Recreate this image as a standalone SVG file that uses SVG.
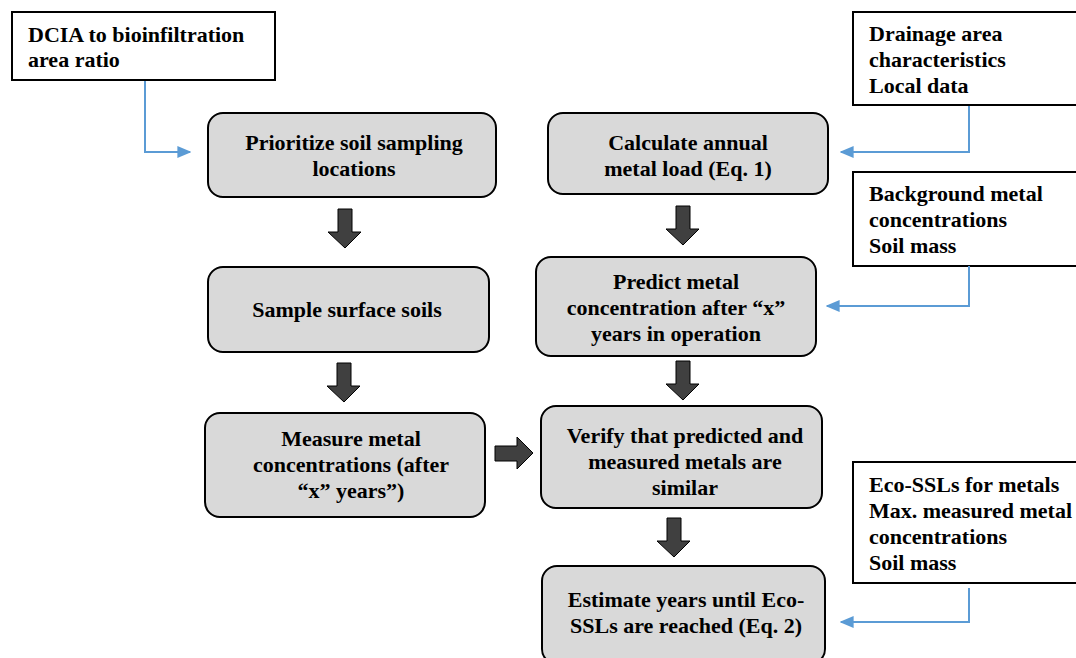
<svg xmlns="http://www.w3.org/2000/svg" width="1076" height="658" viewBox="0 0 1076 658">
<defs>
<style>
text{font-family:'Liberation Serif','Times New Roman','DejaVu Serif',serif;font-weight:700;font-size:22px;fill:#000}
.c{text-anchor:middle}
.proc{fill:#d9d9d9;stroke:#000;stroke-width:2}
.inp{fill:#fff;stroke:#000;stroke-width:2}
.blk{fill:#404040;stroke:#000;stroke-width:1}
.blue{fill:none;stroke:#5b9bd5;stroke-width:2}
</style>
<marker id="ah" viewBox="0 0 10 10" refX="9" refY="5" markerWidth="14" markerHeight="12" markerUnits="userSpaceOnUse" orient="auto" preserveAspectRatio="none">
<path d="M0,0L10,5L0,10z" fill="#5b9bd5"/>
</marker>
</defs>
<rect width="1076" height="658" fill="#fff"/>
<g id="dcia"><rect class="inp" x="12" y="12" width="263" height="68"/><text x="28" y="42">DCIA to bioinfiltration</text><text x="28" y="67">area ratio</text></g>
<g id="drainage"><rect class="inp" x="853" y="12" width="230" height="93"/><text x="869" y="41">Drainage area</text><text x="869" y="67">characteristics</text><text x="869" y="93">Local data</text></g>
<g id="background"><rect class="inp" x="853" y="172" width="230" height="94"/><text x="869" y="201">Background metal</text><text x="869" y="227">concentrations</text><text x="869" y="253">Soil mass</text></g>
<g id="ecossl"><rect class="inp" x="853" y="462" width="230" height="121"/><text x="869" y="492">Eco-SSLs for metals</text><text x="869" y="518">Max. measured metal</text><text x="869" y="544">concentrations</text><text x="869" y="570">Soil mass</text></g>
<g id="prioritize"><rect class="proc" x="208" y="113" width="288" height="84" rx="15"/><text class="c" x="354" y="150">Prioritize soil sampling</text><text class="c" x="354" y="176">locations</text></g>
<g id="calculate"><rect class="proc" x="548" y="113" width="280" height="81" rx="15"/><text class="c" x="688" y="150">Calculate annual</text><text class="c" x="688" y="176">metal load (Eq. 1)</text></g>
<g id="sample"><rect class="proc" x="208" y="267" width="281" height="85" rx="15"/><text class="c" x="347" y="317">Sample surface soils</text></g>
<g id="predict"><rect class="proc" x="536" y="257" width="280" height="99" rx="15"/><text class="c" x="676" y="289">Predict metal</text><text class="c" x="676" y="315">concentration after “x”</text><text class="c" x="676" y="341">years in operation</text></g>
<g id="measure"><rect class="proc" x="205" y="413" width="280" height="104" rx="15"/><text class="c" x="351" y="446">Measure metal</text><text class="c" x="351" y="472">concentrations (after</text><text class="c" x="351" y="498">“x” years”)</text></g>
<g id="verify"><rect class="proc" x="541" y="406" width="281" height="102" rx="15"/><text class="c" x="685" y="443">Verify that predicted and</text><text class="c" x="685" y="469">measured metals are</text><text class="c" x="685" y="495">similar</text></g>
<g id="estimate"><rect class="proc" x="542" y="566" width="283" height="98" rx="15"/><text class="c" x="686" y="607">Estimate years until Eco-</text><text class="c" x="686" y="633">SSLs are reached (Eq. 2)</text></g>
<g id="connectors">
<path class="blk" d="M338,209H352V232H361L345,248L328,232H338Z"/>
<path class="blk" d="M337,363H351V386H360L344,402L327,386H337Z"/>
<path class="blk" d="M676,206H690V229H699L683,245L666,229H676Z"/>
<path class="blk" d="M676,361H690V384H699L683,400L666,384H676Z"/>
<path class="blk" d="M667,518H681V541H690L674,557L657,541H667Z"/>
<path class="blk" d="M495,446H517V437L533,453L517,469V461H495Z"/>
<path class="blue" d="M145,81V152H190" marker-end="url(#ah)"/>
<path class="blue" d="M969,106V152H841" marker-end="url(#ah)"/>
<path class="blue" d="M969,266V306H827" marker-end="url(#ah)"/>
<path class="blue" d="M969,588V622H841" marker-end="url(#ah)"/>
</g>
</svg>
